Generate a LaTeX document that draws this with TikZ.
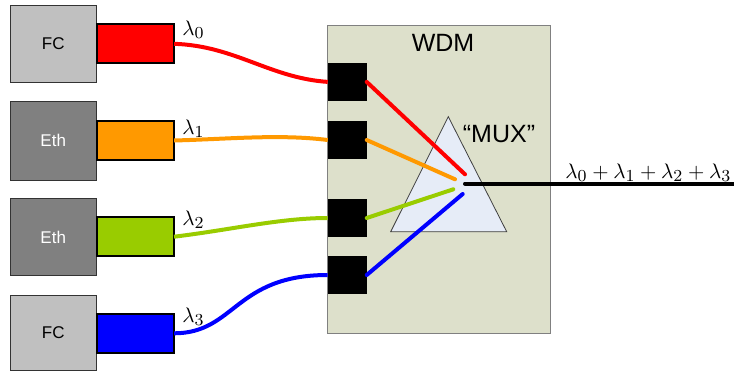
\documentclass[tikz,border=0pt]{standalone}
\usepackage{fontspec}
\setmainfont{Liberation Sans}
\DeclareMathSizes{10}{10}{8}{6}
\definecolor{fcgray}{HTML}{C0C0C0}
\definecolor{ethgray}{HTML}{808080}
\definecolor{cred}{HTML}{FF0000}
\definecolor{corange}{HTML}{FF9900}
\definecolor{cgreen}{HTML}{99CC00}
\definecolor{cblue}{HTML}{0000FF}
\definecolor{wdmfill}{HTML}{DDE0CB}
\definecolor{trifill}{HTML}{E6ECF7}
\definecolor{edgegray}{HTML}{404040}
\tikzset{
  dev/.style={draw=black!80, line width=0.8pt, inner sep=0pt, outer sep=0pt,
    minimum width=86.5pt, font=\fontsize{17}{20}\selectfont},
  fcbox/.style={dev, fill=fcgray, text=black},
  ethbox/.style={dev, fill=ethgray, text=white},
  conn/.style={draw=black, line width=2pt, inner sep=0pt, outer sep=0pt,
    minimum width=77.5pt, minimum height=39pt},
  port/.style={fill=black, inner sep=0pt, outer sep=0pt, minimum width=39pt, minimum height=38.3pt},
  fiber/.style={line width=4pt},
  beam/.style={line width=4pt, line cap=round},
  lam/.style={anchor=base west, inner sep=0pt, scale=2.1, transform shape},
  big/.style={inner sep=0pt, font=\fontsize{25}{30}\selectfont}
}
\begin{document}
\begin{tikzpicture}[x=1pt,y=-1pt]
\useasboundingbox (0,0) rectangle (734,372);
% WDM box
\node[draw=ethgray, line width=0.8pt, fill=wdmfill, inner sep=0pt, outer sep=0pt,
  minimum width=222.3pt, minimum height=308.3pt] (wdm) at (438.9,179.2) {};
\node[big] (wdmlabel) at (443,43) {WDM};
% triangle (MUX)
\coordinate (ta) at (448.3,116.7);
\coordinate (tl) at (390.7,231.7);
\coordinate (tr) at (506.7,231.7);
\draw[draw=edgegray, line width=0.8pt, fill=trifill] (ta) -- (tl) -- (tr) -- cycle;
\node[big] (mux) at (499,134) {“MUX”};
% ports
\node[port] (s0) at (347.2,81.9) {};
\node[port] (s1) at (347.2,140) {};
\node[port] (s2) at (347.2,218) {};
\node[port] (s3) at (347.2,275) {};
% devices
\node[fcbox, minimum height=77.4pt] (d0) at (53.2,44) {FC};
\node[ethbox, minimum height=78.3pt] (d1) at (53.2,140.8) {Eth};
\node[ethbox, minimum height=77.4pt] (d2) at (53.2,237) {Eth};
\node[fcbox, minimum height=75pt] (d3) at (53.2,332.5) {FC};
% connectors
\node[conn, fill=cred] (c0) at (135.3,43.8) {};
\node[conn, fill=corange] (c1) at (135.3,140.5) {};
\node[conn, fill=cgreen] (c2) at (135.3,236.7) {};
\node[conn, fill=cblue] (c3) at (135.3,333.3) {};
% fibers
\draw[fiber, cred] (c0.east) .. controls +(61,2) and +(-58,-4) .. (s0.west);
\draw[fiber, corange] (c1.east) .. controls +(56,-1.5) and +(-48,-6) .. (s1.west);
\draw[fiber, cgreen] (c2.east) .. controls +(56,-6.7) and +(-48,0) .. (s2.west);
\draw[fiber, cblue] (c3.east) .. controls +(61,0) and +(-93,0) .. (s3.west);
% beams inside WDM
\coordinate (m0) at (465,174.3);
\coordinate (m1) at (455,179.3);
\coordinate (m2) at (453.3,189.3);
\coordinate (m3) at (462.7,194);
\coordinate (mo) at (465,183.6);
\coordinate (out) at (734,183.6);
\draw[beam, cred] (s0.east) -- (m0);
\draw[beam, corange] (s1.east) -- (m1);
\draw[beam, cgreen] (s2.east) -- (m2);
\draw[beam, cblue] (s3.east) -- (m3);
\draw[beam, black] (mo) -- (out);
% labels
\node[lam] (l0) at (182,35) {$\lambda_0$};
\node[lam] (l1) at (182,134) {$\lambda_1$};
\node[lam] (l2) at (182,225) {$\lambda_2$};
\node[lam] (l3) at (182,322) {$\lambda_3$};
\node[lam] (lsum) at (565,178) {$\lambda_0+\lambda_1+\lambda_2+\lambda_3$};
\end{tikzpicture}
\end{document}
